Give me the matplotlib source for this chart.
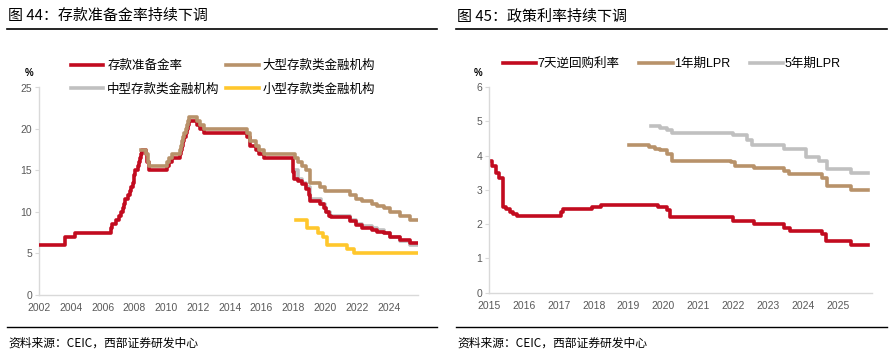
import matplotlib
matplotlib.use("Agg")
import matplotlib.pyplot as plt
from matplotlib.lines import Line2D

plt.rcParams['font.family'] = ['Liberation Sans', 'Noto Sans CJK SC', 'DejaVu Sans']
CJK = ['Noto Sans CJK SC', 'DejaVu Sans']

RED = "#C20B1F"
BROWN = "#B8926A"
GRAY = "#C0C0C0"
YELLOW = "#FFC72C"
TICK_C = "#595959"
LW = 2.6

# ---- chart 44: reserve requirement ratio (%), step points (year, value)
rrr_x = [2002.0, 2003.65, 2004.25, 2006.5, 2006.62, 2006.87, 2007.04, 2007.15, 2007.29,
         2007.37, 2007.43, 2007.62, 2007.73, 2007.82, 2007.9, 2007.98, 2008.07, 2008.23,
         2008.32, 2008.38, 2008.45, 2008.48, 2008.73, 2008.8, 2008.93, 2010.05, 2010.15,
         2010.37, 2010.88, 2010.91, 2010.97, 2011.05, 2011.15, 2011.23, 2011.31, 2011.38,
         2011.47, 2011.93, 2012.15, 2012.38, 2015.1, 2015.3, 2015.68, 2015.82, 2016.17,
         2017.97, 2018.05, 2018.3, 2018.55, 2018.8, 2019.02, 2019.08, 2019.7, 2019.95,
         2020.05, 2020.25, 2020.35, 2021.54, 2021.95, 2022.32, 2022.93, 2023.24, 2023.71,
         2024.1, 2024.74, 2025.37, 2025.85]
rrr_y = [6.0, 7.0, 7.5, 8.0, 8.5, 9.0, 9.5, 10.0, 10.5,
         11.0, 11.5, 12.0, 12.5, 13.0, 13.5, 14.5, 15.0, 15.5,
         16.0, 16.5, 17.0, 17.5, 17.0, 16.0, 15.0, 15.5, 16.0,
         16.5, 17.0, 17.5, 18.0, 18.5, 19.0, 19.5, 20.0, 20.5,
         21.0, 20.5, 20.0, 19.5, 19.0, 18.0, 17.5, 17.0, 16.5,
         14.8, 14.0, 13.7, 13.3, 12.8, 12.0, 11.3, 11.0, 10.5,
         10.0, 9.5, 9.4, 8.9, 8.4, 8.1, 7.8, 7.6, 7.4,
         7.0, 6.6, 6.2, 6.2]

large_x = [2008.45, 2008.75, 2008.85, 2008.95, 2010.05, 2010.15, 2010.37, 2010.88, 2010.91,
           2010.97, 2011.05, 2011.15, 2011.23, 2011.31, 2011.38, 2011.47, 2011.93, 2012.15,
           2012.38, 2015.1, 2015.3, 2015.68, 2015.82, 2016.17, 2018.1, 2018.32, 2018.55,
           2018.79, 2019.04, 2019.07, 2019.71, 2020.01, 2021.54, 2021.95, 2022.32, 2022.93,
           2023.24, 2023.71, 2024.1, 2024.74, 2025.37, 2025.85]
large_y = [17.5, 17.0, 16.0, 15.5, 16.0, 16.5, 17.0, 17.5, 18.0,
           18.5, 19.0, 19.5, 20.0, 20.5, 21.0, 21.5, 21.0, 20.5,
           20.0, 19.5, 18.5, 18.0, 17.5, 17.0, 16.5, 16.0, 15.5,
           15.0, 14.5, 13.5, 13.0, 12.5, 12.0, 11.5, 11.25, 11.0,
           10.75, 10.5, 10.0, 9.5, 9.0, 9.0]

mid_x = [2018.1, 2018.3, 2018.55, 2018.8, 2019.04, 2019.75, 2019.98, 2020.05, 2020.3,
         2021.54, 2021.95, 2022.32, 2022.93, 2023.24, 2023.71, 2024.1, 2024.74, 2025.37, 2025.85]
mid_y = [15.0, 14.0, 13.5, 13.0, 11.5, 11.0, 10.5, 10.0, 9.5,
         9.0, 8.5, 8.25, 8.0, 7.75, 7.5, 7.0, 6.5, 6.0, 6.0]

small_x = [2018.15, 2018.85, 2019.25, 2019.55, 2019.85, 2020.1, 2021.4, 2021.8, 2025.85]
small_y = [9.0, 8.0, 8.0, 7.5, 7.0, 6.0, 5.5, 5.0, 5.0]

rrr_xticks = [2002, 2004, 2006, 2008, 2010, 2012, 2014, 2016, 2018, 2020, 2022, 2024]

# ---- chart 45: policy rates (%)
repo_x = [2015.0, 2015.1, 2015.2, 2015.28, 2015.4, 2015.5, 2015.6, 2015.7, 2015.8,
          2017.05, 2017.13, 2017.95, 2018.2, 2019.85, 2020.1, 2020.2, 2022.0, 2022.6,
          2023.45, 2023.62, 2024.55, 2024.65, 2025.38, 2025.87]
repo_y = [3.85, 3.7, 3.5, 3.35, 2.5, 2.45, 2.35, 2.3, 2.25,
          2.35, 2.45, 2.5, 2.55, 2.5, 2.4, 2.2, 2.1, 2.0,
          1.9, 1.8, 1.7, 1.5, 1.4, 1.4]

lpr1_x = [2019.0, 2019.6, 2019.75, 2019.9, 2020.1, 2020.25, 2021.95, 2022.05, 2022.6,
          2023.45, 2023.6, 2024.55, 2024.7, 2025.38, 2025.87]
lpr1_y = [4.31, 4.25, 4.2, 4.15, 4.05, 3.85, 3.8, 3.7, 3.65,
          3.55, 3.45, 3.35, 3.1, 3.0, 3.0]

lpr5_x = [2019.65, 2019.9, 2020.1, 2020.25, 2022.0, 2022.4, 2022.55, 2023.45, 2024.1,
          2024.45, 2024.7, 2025.38, 2025.87]
lpr5_y = [4.85, 4.8, 4.75, 4.65, 4.6, 4.45, 4.3, 4.2, 3.95,
          3.85, 3.6, 3.5, 3.5]

repo_xticks = list(range(2015, 2026))

W, H = 895, 358
fig = plt.figure(figsize=(W / 100, H / 100), dpi=100)


def fx(px):
    return px / W


def fy(py):
    return 1 - py / H


def style_axes(ax):
    for s in ["top", "right"]:
        ax.spines[s].set_visible(False)
    for s in ["left", "bottom"]:
        ax.spines[s].set_color("#D9D9D9")
        ax.spines[s].set_linewidth(1.0)
    ax.tick_params(axis="y", length=3, color="#D9D9D9", labelsize=7.5, labelcolor=TICK_C, pad=2)
    ax.tick_params(axis="x", length=0, labelsize=7.5, labelcolor=TICK_C, pad=6)


# header / footer
for x0, x1, title in [(7, 437, "图 44：存款准备金率持续下调"), (456, 887, "图 45：政策利率持续下调")]:
    fig.add_artist(Line2D([fx(x0), fx(x1)], [fy(29), fy(29)], color="black", lw=1.2))
    fig.add_artist(Line2D([fx(x0), fx(x1)], [fy(327), fy(327)], color="black", lw=1.0))
    fig.text(fx(x0 + 1), fy(16), title, fontsize=10.8, family=CJK, va="center", ha="left")
    fig.text(fx(x0 + 1), fy(343), "资料来源：CEIC，西部证券研发中心", fontsize=8.5, family=CJK,
             va="center", ha="left")

# left chart
ax1 = fig.add_axes([fx(39), fy(294.7), fx(418 - 39), (294.7 - 87.5) / H])
h_red, = ax1.plot(rrr_x, rrr_y, drawstyle="steps-post", color=RED, lw=LW, label="存款准备金率", zorder=3)
h_big, = ax1.plot(large_x, large_y, drawstyle="steps-post", color=BROWN, lw=LW, label="大型存款类金融机构", zorder=4)
h_mid, = ax1.plot(mid_x, mid_y, drawstyle="steps-post", color=GRAY, lw=LW, label="中型存款类金融机构", zorder=2)
h_small, = ax1.plot(small_x, small_y, drawstyle="steps-post", color=YELLOW, lw=LW, label="小型存款类金融机构", zorder=2)
ax1.set_xlim(2002, 2025.85)
ax1.set_ylim(0, 25)
ax1.set_yticks([0, 5, 10, 15, 20, 25])
ax1.set_xticks(rrr_xticks)
style_axes(ax1)
ax1.legend(handles=[h_red, h_mid, h_big, h_small], loc="upper left",
           bbox_to_anchor=(fx(71), fy(59)), bbox_transform=fig.transFigure, ncol=2,
           frameon=False, prop={"family": CJK, "size": 9}, handlelength=2.6,
           handletextpad=0.3, columnspacing=0.5, labelspacing=0.85, borderaxespad=0,
           borderpad=0)
fig.text(fx(29), fy(73), "%", fontsize=7, fontweight="bold", ha="center", va="center")

# right chart
ax2 = fig.add_axes([fx(489), fy(292.7), fx(871.7 - 489), (292.7 - 87) / H])
ax2.plot(repo_x, repo_y, drawstyle="steps-post", color=RED, lw=LW, label="7天逆回购利率")
ax2.plot(lpr1_x, lpr1_y, drawstyle="steps-post", color=BROWN, lw=LW, label="1年期LPR")
ax2.plot(lpr5_x, lpr5_y, drawstyle="steps-post", color=GRAY, lw=LW, label="5年期LPR")
ax2.set_xlim(2015, 2025.97)
ax2.set_ylim(0, 6)
ax2.set_yticks(range(0, 7))
ax2.set_xticks(repo_xticks)
style_axes(ax2)
ax2.legend(loc="upper left", bbox_to_anchor=(fx(503), fy(58)), bbox_transform=fig.transFigure,
           ncol=3, frameon=False,
           prop={"family": ['Liberation Sans', 'Noto Sans CJK SC'], "size": 9},
           handlelength=2.65, handletextpad=0.1, columnspacing=1.6, borderaxespad=0,
           borderpad=0)
fig.text(fx(478), fy(73), "%", fontsize=7, fontweight="bold", ha="center", va="center")

fig.savefig("out.png", dpi=100)
